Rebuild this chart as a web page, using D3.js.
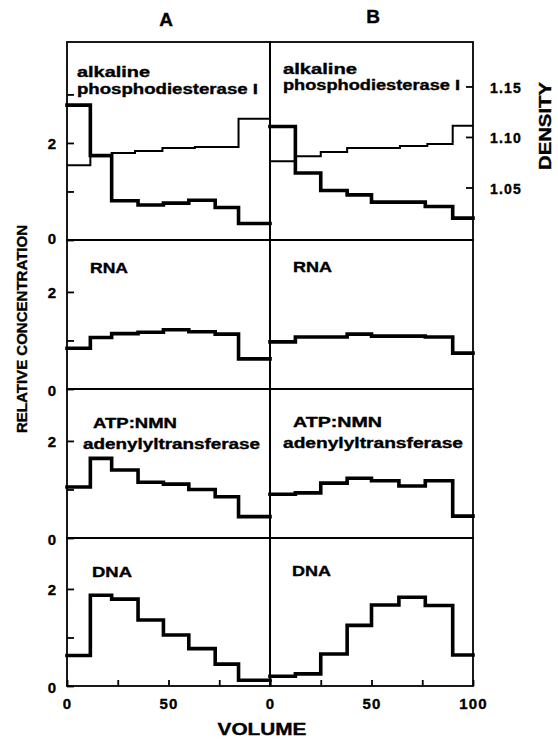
<!DOCTYPE html>
<html>
<head>
<meta charset="utf-8">
<script src="https://cdn.jsdelivr.net/npm/d3@7"></script>
<style>
  html, body { margin: 0; padding: 0; background: #fff; }
  svg { display: block; }
  text { font-family: "Liberation Sans", "DejaVu Sans", sans-serif; font-weight: bold; fill: #000; stroke: #000; stroke-width: 0.35px; }
</style>
</head>
<body>
<svg id="chart" width="558" height="740"></svg>
<script>
// ---------------- data ----------------
const columns = ["A", "B"];
const binsA = [0, 11.5, 22, 35, 47.5, 60, 73, 84.5, 100];
const binsB = [0, 12.5, 25, 38, 50, 63.5, 76.5, 90, 100];

const pdeA = [2.78, 1.74, 0.81, 0.72, 0.76, 0.82, 0.67, 0.34];
const pdeB = [2.34, 1.38, 1.02, 0.93, 0.78, 0.78, 0.69, 0.45];
const rnaA = [0.84, 1.06, 1.14, 1.17, 1.22, 1.18, 1.13, 0.62];
const rnaB = [0.97, 1.07, 1.07, 1.13, 1.09, 1.09, 1.07, 0.74];
const atpA = [1.05, 1.64, 1.40, 1.15, 1.11, 1.00, 0.85, 0.44];
const atpB = [0.90, 0.93, 1.13, 1.23, 1.18, 1.07, 1.18, 0.45];
const dnaA = [0.63, 1.87, 1.79, 1.36, 1.05, 0.77, 0.45, 0.12];
const dnaB = [0.20, 0.25, 0.66, 1.25, 1.67, 1.83, 1.66, 0.64];

const densBinsA = [0, 11.5, 22, 33.5, 47, 63, 84.5, 100];
const densA = [1.072, 1.081, 1.084, 1.086, 1.089, 1.090, 1.118];
const densBinsB = [0, 12.5, 25, 38, 64, 77.5, 90, 100];
const densB = [1.076, 1.081, 1.085, 1.089, 1.091, 1.093, 1.111];

const rowLabelsA = [["alkaline", "phosphodiesterase I"], ["RNA"], ["ATP:NMN", "adenylyltransferase"], ["DNA"]];
const rowLabelsB = [["alkaline", "phosphodiesterase I"], ["RNA"], ["ATP:NMN", "adenylyltransferase"], ["DNA"]];
const yMaxRows = [4.08, 3.07, 3.07, 3.05];
const yTicksRows = [[0, 1, 2, 3], [0, 1, 2], [0, 1, 2], [0, 1, 2]];
const yLabelTicks = [0, 2];
const densityDomain = [0.998, 1.194];
const densityTicks = [1.05, 1.10, 1.15];
const xTicks = [0, 25, 50, 75, 100];
const xLabelsA = [0, 50];
const xLabelsB = [0, 50, 100];

// ---------------- layout ----------------
const svg = d3.select("#chart");
const colX = [[67, 270], [270, 473]];
const rowY = [[42, 240], [240, 389], [389, 538], [538, 686]];

const xScales = colX.map(r => d3.scaleLinear().domain([0, 100]).range(r));
const yScales = rowY.map((r, i) => d3.scaleLinear().domain([0, yMaxRows[i]]).range([r[1], r[0]]));
const dScale = d3.scaleLinear().domain(densityDomain).range([rowY[0][1], rowY[0][0]]);

const series = [
  [[binsA, pdeA], [binsB, pdeB]],
  [[binsA, rnaA], [binsB, rnaB]],
  [[binsA, atpA], [binsB, atpB]],
  [[binsA, dnaA], [binsB, dnaB]]
];

function stepPoints(bins, vals) {
  const pts = vals.map((v, i) => [bins[i], v]);
  pts.push([bins[bins.length - 1], vals[vals.length - 1]]);
  return pts;
}

// frames
rowY.forEach((ry, ri) => {
  colX.forEach((cx, ci) => {
    svg.append("rect")
      .attr("x", cx[0]).attr("y", ry[0])
      .attr("width", cx[1] - cx[0]).attr("height", ry[1] - ry[0])
      .attr("fill", "none").attr("stroke", "#000").attr("stroke-width", 1.8);
  });
});

// density (thin) lines in row 0
[[densBinsA, densA], [densBinsB, densB]].forEach(([bins, vals], ci) => {
  const line = d3.line().curve(d3.curveStepAfter)
    .x(d => xScales[ci](d[0])).y(d => dScale(d[1]));
  svg.append("path").attr("d", line(stepPoints(bins, vals)))
    .attr("fill", "none").attr("stroke", "#000").attr("stroke-width", 2);
});

// enzyme / nucleic acid (thick) lines
series.forEach((row, ri) => {
  row.forEach(([bins, vals], ci) => {
    const line = d3.line().curve(d3.curveStepAfter)
      .x(d => xScales[ci](d[0])).y(d => yScales[ri](d[1]));
    svg.append("path").attr("d", line(stepPoints(bins, vals)))
      .attr("fill", "none").attr("stroke", "#000").attr("stroke-width", 3.6)
      .attr("stroke-linejoin", "miter").attr("stroke-linecap", "square");
  });
});

// left y axes
rowY.forEach((ry, ri) => {
  const ax = d3.axisLeft(yScales[ri]).tickValues(yTicksRows[ri])
    .tickSizeInner(-7).tickSizeOuter(0).tickPadding(11)
    .tickFormat(d => yLabelTicks.includes(d) ? d3.format("d")(d) : "");
  const g = svg.append("g").attr("transform", `translate(${colX[0][0]},0)`).call(ax);
  g.select(".domain").remove();
  g.selectAll("line").attr("stroke", "#000").attr("stroke-width", 1.8);
  g.selectAll("text").attr("font-size", 15).attr("font-family", null).attr("dy", "0.4em");
  if (ri === 0) g.selectAll(".tick").filter(d => d === 0).select("text").attr("dy", "0.25em");
});

// right density axis
{
  const ax = d3.axisRight(dScale).tickValues(densityTicks)
    .tickSizeInner(-7).tickSizeOuter(0).tickPadding(17).tickFormat(d3.format(".2f"));
  const g = svg.append("g").attr("transform", `translate(${colX[1][1]},0)`).call(ax);
  g.select(".domain").remove();
  g.selectAll("line").attr("stroke", "#000").attr("stroke-width", 1.8);
  g.selectAll("text").attr("font-size", 14).attr("font-family", null).attr("dy", "0.4em")
    .attr("letter-spacing", 1.2);
}

// bottom x axes
[xLabelsA, xLabelsB].forEach((labs, ci) => {
  const ax = d3.axisBottom(xScales[ci]).tickValues(xTicks)
    .tickSizeInner(-6).tickSizeOuter(0).tickPadding(12)
    .tickFormat(d => labs.includes(d) ? d3.format("d")(d) : "");
  const g = svg.append("g").attr("transform", `translate(0,${rowY[3][1]})`).call(ax);
  g.select(".domain").remove();
  g.selectAll("line").attr("stroke", "#000").attr("stroke-width", 1.8);
  g.selectAll("text").attr("font-size", 15).attr("font-family", null).attr("letter-spacing", 1.2);
});

// panel labels
const labelPos = [
  { A: [[77, 77, 73], [77, 94, 181]], B: [[283, 74, 74], [283, 90, 177]] },
  { A: [[90, 273, 38]], B: [[293, 272, 39]] },
  { A: [[93, 428, 84], [83, 449, 177]], B: [[293, 427, 89], [283, 448, 180]] },
  { A: [[92, 577, 40]], B: [[292, 576, 39]] }
];
[rowLabelsA, rowLabelsB].forEach((labels, ci) => {
  labels.forEach((lines, ri) => {
    lines.forEach((t, li) => {
      const p = labelPos[ri][columns[ci]][li];
      svg.append("text").attr("x", p[0]).attr("y", p[1])
        .attr("font-size", 14).attr("textLength", p[2]).attr("lengthAdjust", "spacingAndGlyphs")
        .text(t);
    });
  });
});

// column titles
svg.append("text").attr("x", 166).attr("y", 26).attr("text-anchor", "middle")
  .attr("font-size", 19).text(columns[0]);
svg.append("text").attr("x", 373).attr("y", 23).attr("text-anchor", "middle")
  .attr("font-size", 19).text(columns[1]);

// axis titles
svg.append("text").attr("transform", "translate(21,329) rotate(-90)")
  .attr("text-anchor", "middle").attr("dominant-baseline", "central")
  .attr("font-size", 15).attr("textLength", 208).attr("lengthAdjust", "spacingAndGlyphs")
  .text("RELATIVE CONCENTRATION");
svg.append("text").attr("transform", "translate(545,126) rotate(-90)")
  .attr("text-anchor", "middle").attr("dominant-baseline", "central")
  .attr("font-size", 16).attr("textLength", 88).attr("lengthAdjust", "spacingAndGlyphs")
  .text("DENSITY");
svg.append("text").attr("x", 262).attr("y", 735).attr("text-anchor", "middle")
  .attr("font-size", 16).attr("textLength", 89).attr("lengthAdjust", "spacingAndGlyphs")
  .text("VOLUME");
</script>
</body>
</html>
